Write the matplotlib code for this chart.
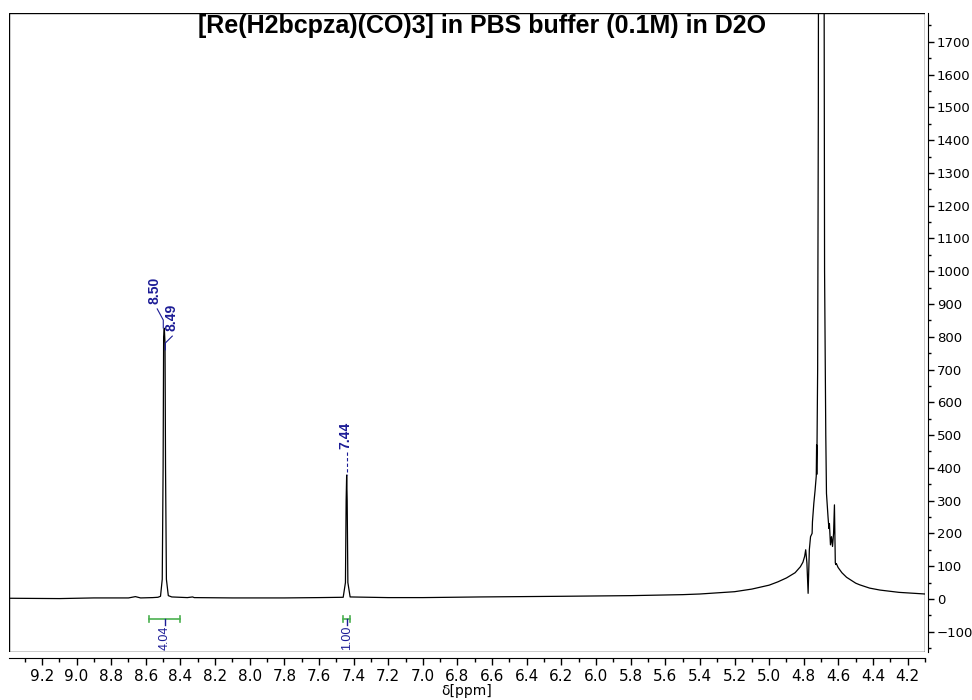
import matplotlib
matplotlib.use("Agg")
import matplotlib.pyplot as plt
from matplotlib.patches import Rectangle
from matplotlib.ticker import MultipleLocator

# spectrum trace (ppm, intensity)
ppm = [9.39, 9.10, 8.90, 8.70, 8.66, 8.63, 8.56, 8.53, 8.515, 8.505, 8.500, 8.497,
       8.493, 8.489, 8.486, 8.481, 8.47, 8.45, 8.36, 8.33, 8.32, 8.10, 7.80, 7.60,
       7.46, 7.447, 7.443, 7.440, 7.437, 7.433, 7.42, 7.20, 7.00, 6.67, 6.20, 5.80,
       5.50, 5.40, 5.20, 5.10, 5.00, 4.95, 4.90, 4.85, 4.82, 4.805, 4.795, 4.789,
       4.782, 4.775, 4.768, 4.761, 4.752, 4.750, 4.742, 4.735, 4.728, 4.726, 4.725,
       4.720, 4.716, 4.713, 4.700, 4.686, 4.680, 4.673, 4.669, 4.660, 4.655, 4.652,
       4.646, 4.640, 4.634, 4.628, 4.623, 4.618, 4.615, 4.612, 4.602, 4.58, 4.553,
       4.50, 4.477, 4.42, 4.36, 4.25, 4.10]
intensity = [2, 1, 3, 3, 7, 3, 4, 5, 8, 60, 400, 800,
             826, 780, 400, 60, 10, 6, 4, 6, 4, 3, 3, 4,
             5, 50, 300, 378, 300, 50, 6, 4, 4, 6, 8, 10,
             13, 15, 22, 30, 42, 52, 64, 80, 98, 112, 130, 150,
             110, 17, 150, 190, 200, 235, 292, 330, 375, 470, 380,
             700, 1500, 3000, 40000, 3000, 1000, 500, 322, 250, 215, 230,
             165, 190, 160, 200, 287, 110, 105, 108, 96, 80, 66,
             48, 43, 33, 27, 20, 15]

# peak labels
peak_labels = ["8.50", "8.49", "7.44"]
peak_ppm = [8.499, 8.487, 7.440]
peak_top = [827, 760, 378]

# integrals
int_labels = ["4.04", "1.00"]
int_start = [8.58, 7.46]
int_end = [8.40, 7.42]

title = "[Re(H2bcpza)(CO)3] in PBS buffer (0.1M) in D2O"

navy = "#1c1c96"
green = "#4cb050"

fig = plt.figure(figsize=(9.72, 7.0), dpi=100)
ax = fig.add_axes([9 / 972, 48 / 700, 916 / 972, 639 / 700])

ax.plot(ppm, intensity, color="black", lw=0.9, clip_on=True)
ax.set_xlim(9.39, 4.10)
ax.set_ylim(-162, 1788)

# box around the data area, axes drawn slightly outside
ax.add_patch(Rectangle((0, 0), 1, 1, transform=ax.transAxes, fill=False,
                       lw=1.0, edgecolor="black", zorder=5))
ax.spines["left"].set_visible(False)
ax.spines["top"].set_visible(False)
ax.spines["bottom"].set_position(("outward", 4))
ax.spines["right"].set_position(("outward", 2.5))

ax.xaxis.set_major_locator(MultipleLocator(0.2))
ax.xaxis.set_minor_locator(MultipleLocator(0.1))
ax.yaxis.set_major_locator(MultipleLocator(100))
ax.yaxis.set_minor_locator(MultipleLocator(50))
ax.yaxis.tick_right()
ax.tick_params(axis="x", which="major", direction="out", length=5, width=1,
               labelsize=11, pad=3)
ax.tick_params(axis="x", which="minor", direction="out", length=3, width=1)
ax.tick_params(axis="y", which="major", direction="out", length=4, width=1,
               labelsize=9.5, pad=2)
ax.tick_params(axis="y", which="minor", direction="out", length=2, width=1)
ax.set_xticks([round(9.2 - 0.2 * i, 1) for i in range(26)])
ax.set_xticklabels([f"{9.2 - 0.2 * i:.1f}" for i in range(26)])

# peak labels with leader lines
ax.text(8.551, 943, peak_labels[0], rotation=90, ha="center", va="center",
        fontsize=10, fontweight="bold", color=navy, family="Liberation Sans")
ax.plot([8.534, peak_ppm[0], peak_ppm[0]], [885, 851, peak_top[0]], color=navy, lw=0.8)
ax.text(8.453, 860, peak_labels[1], rotation=90, ha="center", va="center",
        fontsize=10, fontweight="bold", color=navy, family="Liberation Sans")
ax.plot([8.447, peak_ppm[1], peak_ppm[1]], [802, 781, peak_top[1]], color=navy, lw=0.8)
ax.text(7.449, 500, peak_labels[2], rotation=90, ha="center", va="center",
        fontsize=10, fontweight="bold", color=navy, family="Liberation Sans")
ax.plot([peak_ppm[2], peak_ppm[2]], [448, peak_top[2]], color=navy, lw=0.8,
        ls=(0, (3, 2)))

# integrals
for lab, s, e in zip(int_labels, int_start, int_end):
    mid = (s + e) / 2
    ax.plot([s, e], [-61, -61], color=green, lw=1.2)
    ax.plot([s, s], [-52, -70], color=green, lw=1.2)
    ax.plot([e, e], [-52, -70], color=green, lw=1.2)
    ax.plot([mid, mid], [-61, -80], color=navy, lw=1)
    ax.text(mid, -82, lab, rotation=90, ha="center", va="top", fontsize=9,
            color=navy, family="Liberation Sans")

fig.text(482 / 972, 1 - 26 / 700, title, ha="center", va="center", fontsize=18,
         fontweight="bold", family="Liberation Sans")
fig.text(467 / 972, 1 - 691 / 700, "δ[ppm]", ha="center", va="center", fontsize=10)

fig.savefig("out.png", dpi=100)
